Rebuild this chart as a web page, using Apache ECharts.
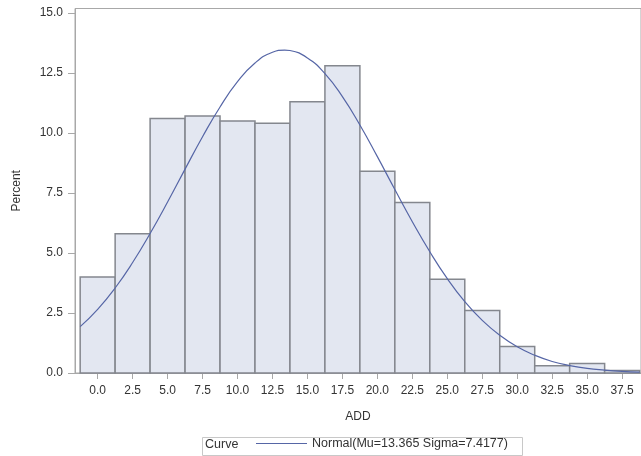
<!DOCTYPE html>
<html>
<head>
<meta charset="utf-8">
<script src="https://cdn.jsdelivr.net/npm/echarts@6/dist/echarts.min.js"></script>
<style>html,body{margin:0;padding:0;background:#fff}#c{width:641px;height:456px}</style>
</head>
<body>
<div id="c"></div>
<script>
// Histogram bins (midpoints) and percents
const binMid = [0, 2.5, 5, 7.5, 10, 12.5, 15, 17.5, 20, 22.5, 25, 27.5, 30, 32.5, 35, 37.5];
const percent = [4.0, 5.8, 10.6, 10.7, 10.5, 10.4, 11.3, 12.8, 8.4, 7.1, 3.9, 2.6, 1.1, 0.3, 0.4, 0.1];
const binWidth = 2.5;
// Fitted normal curve
const curveX = [-1.25, 0, 1.25, 2.5, 3.75, 5, 6.25, 7.5, 8.75, 10, 11.25, 12.5, 13.37, 13.75, 15, 16.25, 17.5, 18.75, 20, 21.25, 22.5, 23.75, 25, 26.25, 27.5, 28.75, 30, 31.25, 32.5, 33.75, 35, 36.25, 37.5, 38.75];
const curveY = [1.93, 2.65, 3.54, 4.60, 5.81, 7.12, 8.49, 9.84, 11.08, 12.13, 12.91, 13.36, 13.45, 13.43, 13.12, 12.47, 11.51, 10.33, 9.01, 7.64, 6.30, 5.05, 3.93, 2.97, 2.19, 1.57, 1.09, 0.74, 0.48, 0.31, 0.19, 0.12, 0.07, 0.04];
const xTicks = [0, 2.5, 5, 7.5, 10, 12.5, 15, 17.5, 20, 22.5, 25, 27.5, 30, 32.5, 35, 37.5];
const yTicks = [0, 2.5, 5, 7.5, 10, 12.5, 15];
const legendTitle = 'Curve';
const curveName = 'Normal(Mu=13.365 Sigma=7.4177)';

const chart = echarts.init(document.getElementById('c'), null, {renderer: 'canvas'});
const font = 'Liberation Sans, Arial, sans-serif';
const txt = '#333333';
chart.setOption({
  animation: false,
  backgroundColor: '#ffffff',
  grid: {left: 75, top: 8.5, right: -1, bottom: 83, show: true, borderColor: '#a8a8a8', borderWidth: 1},
  xAxis: {
    type: 'value', min: -1.62, max: 38.85,
    name: 'ADD', nameLocation: 'middle', nameGap: 38,
    nameTextStyle: {fontFamily: font, fontSize: 12, color: txt},
    axisLine: {show: true, onZero: false, lineStyle: {color: '#a8a8a8'}},
    axisTick: {show: true, length: 6, customValues: xTicks, lineStyle: {color: '#a8a8a8'}},
    axisLabel: {customValues: xTicks, margin: 12, fontFamily: font, fontSize: 12, color: txt, formatter: v => v.toFixed(1)},
    splitLine: {show: false}
  },
  yAxis: {
    type: 'value', min: 0, max: 15.18,
    name: 'Percent', nameLocation: 'middle', nameGap: 52,
    nameTextStyle: {fontFamily: font, fontSize: 12, color: txt},
    axisLine: {show: true, onZero: false, lineStyle: {color: '#a8a8a8'}},
    axisTick: {show: true, length: 7, customValues: yTicks, lineStyle: {color: '#a8a8a8'}},
    axisLabel: {customValues: yTicks, margin: 12, fontFamily: font, fontSize: 12, color: txt, formatter: v => v.toFixed(1)},
    splitLine: {show: false}
  },
  legend: {
    data: [{name: curveName, icon: 'rect'}],
    left: 256, top: 437, itemWidth: 51, itemHeight: 1.2, padding: 0, itemGap: 0,
    textStyle: {fontFamily: font, fontSize: 12.5, color: txt},
    selectedMode: false
  },
  graphic: [
    {type: 'rect', left: 200, top: 435, shape: {width: 320, height: 18}, style: {fill: 'none', stroke: '#c8c8c8', lineWidth: 1}, silent: true},
    {type: 'text', left: 205, top: 438, style: {text: legendTitle, font: '12.5px ' + font, fill: txt}, silent: true}
  ],
  series: [
    {
      type: 'custom',
      name: 'hist',
      data: binMid.map((m, i) => [m, percent[i]]),
      renderItem: function (params, api) {
        const x = api.value(0), v = api.value(1);
        const p1 = api.coord([x - binWidth / 2, v]);
        const p2 = api.coord([x + binWidth / 2, 0]);
        return {
          type: 'rect',
          shape: {x: p1[0], y: p1[1], width: p2[0] - p1[0], height: p2[1] - p1[1]},
          style: {fill: '#e3e7f1', stroke: '#84878e', lineWidth: 1.5}
        };
      },
      z: 2
    },
    {
      type: 'line',
      name: curveName,
      data: curveX.map((x, i) => [x, curveY[i]]),
      smooth: true,
      symbol: 'none',
      lineStyle: {color: '#5666a6', width: 1.2},
      itemStyle: {color: '#5666a6'},
      z: 3
    }
  ]
});
</script>
</body>
</html>
